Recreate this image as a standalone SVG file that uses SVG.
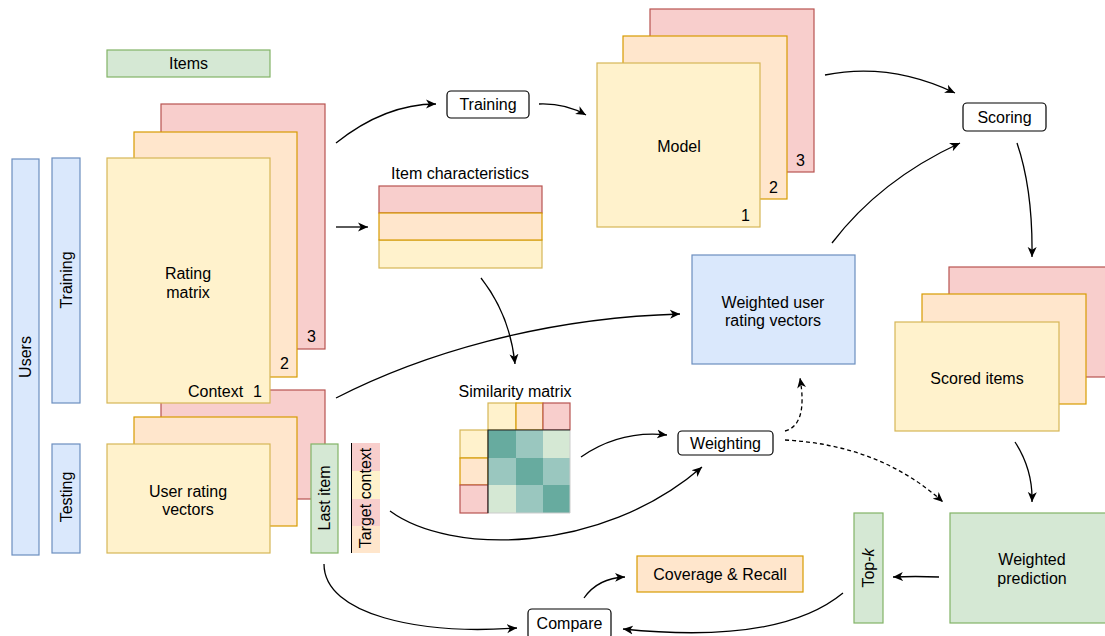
<svg xmlns="http://www.w3.org/2000/svg" width="1105" height="636" viewBox="0 0 1105 636">
<defs>
<style>
text{font-family:"Liberation Sans",Arial,sans-serif;font-size:16px;fill:#000;}
.c{text-anchor:middle;}
.red{fill:#f8cecc;stroke:#b85450;stroke-width:1.2;}
.org{fill:#ffe6cc;stroke:#d79b00;stroke-width:1.2;}
.yel{fill:#fff2cc;stroke:#d6b656;stroke-width:1.2;}
.grn{fill:#d5e8d4;stroke:#82b366;stroke-width:1.2;}
.blu{fill:#dae8fc;stroke:#6c8ebf;stroke-width:1.2;}
.box{fill:#fff;stroke:#000;stroke-width:1.2;}
.edge{fill:none;stroke:#000;stroke-width:1.3;marker-end:url(#arr);}
.dash{stroke-dasharray:4 3;}
</style>
<marker id="arr" markerUnits="userSpaceOnUse" markerWidth="12" markerHeight="10" refX="10" refY="5" orient="auto" viewBox="0 0 12 10">
<path d="M0,0.5 L10,5 L0,9.5 L2.8,5 Z" fill="#000"/>
</marker>
</defs>

<g id="items"><rect class="grn" x="107" y="50" width="163" height="27"/><text class="c" x="188.5" y="69">Items</text></g>

<g id="users"><rect class="blu" x="12" y="159" width="27" height="396"/><text class="c" transform="translate(31,357) rotate(-90)">Users</text></g>
<g id="training-users"><rect class="blu" x="52" y="158" width="28" height="245"/><text class="c" transform="translate(72,280) rotate(-90)">Training</text></g>
<g id="testing-users"><rect class="blu" x="52" y="444" width="28" height="109"/><text class="c" transform="translate(72,497) rotate(-90)">Testing</text></g>

<g id="user-rating-vectors">
<rect class="red" x="161" y="390" width="164" height="109"/>
<rect class="org" x="134" y="417" width="163" height="109"/>
<rect class="yel" x="107" y="444" width="163" height="109"/>
<text class="c" x="188" y="497">User rating</text>
<text class="c" x="188" y="515">vectors</text>
</g>

<g id="rating-matrix">
<rect class="red" x="161" y="104" width="164" height="245"/>
<rect class="org" x="134" y="132" width="163" height="245"/>
<rect class="yel" x="107" y="158" width="163" height="245"/>
<text class="c" x="188" y="279">Rating</text>
<text class="c" x="188" y="298">matrix</text>
<text x="188" y="397">Context</text>
<text x="253" y="397">1</text>
<text x="280" y="369">2</text>
<text x="307" y="342">3</text>
</g>

<g id="last-item"><rect class="grn" x="311" y="444" width="27" height="109"/><text class="c" transform="translate(330,498) rotate(-90)">Last item</text></g>

<g id="target-context">
<rect x="351" y="443" width="29" height="28" fill="#f8cecc"/>
<rect x="351" y="471" width="29" height="28" fill="#fff2cc"/>
<rect x="351" y="499" width="29" height="27" fill="#f8cecc"/>
<rect x="351" y="526" width="29" height="27" fill="#ffe6cc"/>
<line x1="351.5" y1="443" x2="351.5" y2="553" stroke="#000" stroke-width="1"/>
<text class="c" transform="translate(371,498) rotate(-90)">Target context</text>
</g>

<g id="training-step"><rect class="box" x="447" y="91" width="82" height="27" rx="4"/><text class="c" x="488" y="110">Training</text></g>

<g id="item-characteristics">
<text class="c" x="460" y="179">Item characteristics</text>
<rect class="red" x="379" y="186" width="163" height="27"/>
<rect class="yel" x="379" y="240" width="163" height="28"/>
<rect class="org" x="379" y="213" width="163" height="27"/>
</g>

<g id="similarity-matrix">
<text class="c" x="515" y="397">Similarity matrix</text>
<rect class="yel" x="488" y="403" width="28" height="27"/>
<rect class="org" x="516" y="403" width="27" height="27"/>
<rect class="red" x="543" y="403" width="27" height="27"/>
<rect class="yel" x="460" y="430" width="28" height="28"/>
<rect class="org" x="460" y="458" width="28" height="27"/>
<rect class="red" x="460" y="485" width="28" height="28"/>
<rect x="488" y="430" width="28" height="28" fill="#67ab9f"/>
<rect x="516" y="430" width="27" height="28" fill="#9ac7bf"/>
<rect x="543" y="430" width="27" height="28" fill="#d5e8d4"/>
<rect x="488" y="458" width="28" height="27" fill="#9ac7bf"/>
<rect x="516" y="458" width="27" height="27" fill="#67ab9f"/>
<rect x="543" y="458" width="27" height="27" fill="#9ac7bf"/>
<rect x="488" y="485" width="28" height="28" fill="#d5e8d4"/>
<rect x="516" y="485" width="27" height="28" fill="#9ac7bf"/>
<rect x="543" y="485" width="27" height="28" fill="#67ab9f"/>
<polyline points="570,513 570,430" fill="none" stroke="#ccc" stroke-width="1"/>
<polyline points="488,513 570,513" fill="none" stroke="#ccc" stroke-width="1"/>
<polyline points="488,513 488,430 570,430" fill="none" stroke="#222" stroke-width="1.2"/>
</g>

<g id="model">
<rect class="red" x="650" y="9" width="164" height="163"/>
<rect class="org" x="623" y="36" width="164" height="163"/>
<rect class="yel" x="597" y="63" width="163" height="164"/>
<text class="c" x="679" y="152">Model</text>
<text x="741" y="221">1</text>
<text x="769" y="193">2</text>
<text x="796" y="166">3</text>
</g>

<g id="scoring"><rect class="box" x="963" y="103" width="83" height="28" rx="4"/><text class="c" x="1004.5" y="123">Scoring</text></g>

<g id="weighted-user-rating-vectors"><rect class="blu" x="692" y="255" width="163" height="109"/><text class="c" x="773" y="308">Weighted user</text><text class="c" x="773" y="326">rating vectors</text></g>

<g id="weighting"><rect class="box" x="678" y="431" width="95" height="24" rx="4"/><text class="c" x="725.5" y="449">Weighting</text></g>

<g id="scored-items">
<rect class="red" x="949" y="267" width="164" height="110"/>
<rect class="org" x="922" y="294" width="164" height="110"/>
<rect class="yel" x="895" y="322" width="164" height="109"/>
<text class="c" x="977" y="384">Scored items</text>
</g>

<g id="weighted-prediction"><rect class="grn" x="950" y="513" width="164" height="110"/><text class="c" x="1032" y="565">Weighted</text><text class="c" x="1032" y="584">prediction</text></g>

<g id="top-k"><rect class="grn" x="854" y="513" width="29" height="110"/><text class="c" transform="translate(874,568) rotate(-90)">Top-<tspan font-style="italic">k</tspan></text></g>

<g id="coverage-recall"><rect class="org" x="637" y="556" width="166" height="36"/><text class="c" x="720" y="580">Coverage &amp; Recall</text></g>

<g id="compare"><rect class="box" x="528" y="609" width="83" height="30" rx="4"/><text class="c" x="569.5" y="629">Compare</text></g>

<g id="connectors">
<path class="edge" d="M336,143 Q385,104 436,104"/>
<path class="edge" d="M539,104 Q565,103 586,115"/>
<path class="edge" d="M336,227 L368,227"/>
<path class="edge" d="M481,278 Q510,315 515,364"/>
<path class="edge" d="M336,398 C420,355 540,318 680,314"/>
<path class="edge" d="M825,75 Q890,62 955,93"/>
<path class="edge" d="M832,243 Q880,180 960,143"/>
<path class="edge" d="M1017,143 Q1033,190 1032,257"/>
<path class="edge" d="M581,457 Q620,430 667,435"/>
<path class="edge" d="M390,511 C450,555 600,555 702,467"/>
<path class="edge dash" d="M785,431 Q808,425 800,378"/>
<path class="edge dash" d="M785,440 Q880,445 943,502"/>
<path class="edge" d="M1015,442 Q1033,470 1032,502"/>
<path class="edge" d="M939,577 Q915,576 893,577"/>
<path class="edge" d="M843,593 Q780,645 623,629"/>
<path class="edge" d="M324,564 C324,615 420,635 517,628"/>
<path class="edge" d="M584,598 Q598,578 625,577"/>
</g>
</svg>
